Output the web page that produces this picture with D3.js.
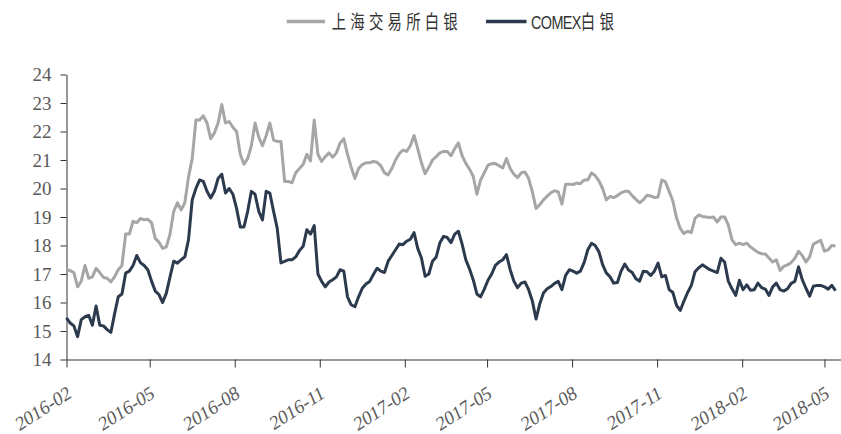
<!DOCTYPE html>
<html><head><meta charset="utf-8">
<script src="https://cdn.jsdelivr.net/npm/d3@7"></script>
<style>body{margin:0;background:#fff}svg{display:block}</style>
</head><body><svg id="c" width="841" height="434"></svg>
<script>
const dates = [
"2016-02-01","2016-02-05","2016-02-09","2016-02-13","2016-02-17","2016-02-21","2016-02-25","2016-02-29",
"2016-03-04","2016-03-08","2016-03-12","2016-03-16","2016-03-20","2016-03-24","2016-03-28",
"2016-04-01","2016-04-05","2016-04-09","2016-04-13","2016-04-17","2016-04-21","2016-04-25","2016-04-29",
"2016-05-03","2016-05-07","2016-05-11","2016-05-15","2016-05-19","2016-05-23","2016-05-27","2016-05-31",
"2016-06-04","2016-06-08","2016-06-12","2016-06-16","2016-06-20","2016-06-24","2016-06-28",
"2016-07-02","2016-07-06","2016-07-10","2016-07-14","2016-07-18","2016-07-22","2016-07-26","2016-07-30",
"2016-08-03","2016-08-07","2016-08-11","2016-08-15","2016-08-19","2016-08-23","2016-08-27","2016-08-31",
"2016-09-04","2016-09-08","2016-09-12","2016-09-16","2016-09-20","2016-09-24","2016-09-28",
"2016-10-02","2016-10-06","2016-10-10","2016-10-14","2016-10-18","2016-10-22","2016-10-26","2016-10-30",
"2016-11-03","2016-11-07","2016-11-11","2016-11-15","2016-11-19","2016-11-23","2016-11-27",
"2016-12-01","2016-12-05","2016-12-09","2016-12-13","2016-12-17","2016-12-21","2016-12-25","2016-12-29",
"2017-01-02","2017-01-06","2017-01-10","2017-01-14","2017-01-18","2017-01-22","2017-01-26","2017-01-30",
"2017-02-03","2017-02-07","2017-02-11","2017-02-15","2017-02-19","2017-02-23","2017-02-27",
"2017-03-03","2017-03-07","2017-03-11","2017-03-15","2017-03-19","2017-03-23","2017-03-27","2017-03-31",
"2017-04-04","2017-04-08","2017-04-12","2017-04-16","2017-04-20","2017-04-24","2017-04-28",
"2017-05-02","2017-05-06","2017-05-10","2017-05-14","2017-05-18","2017-05-22","2017-05-26","2017-05-30",
"2017-06-03","2017-06-07","2017-06-11","2017-06-15","2017-06-19","2017-06-23","2017-06-27",
"2017-07-01","2017-07-05","2017-07-09","2017-07-13","2017-07-17","2017-07-21","2017-07-25","2017-07-29",
"2017-08-02","2017-08-06","2017-08-10","2017-08-14","2017-08-18","2017-08-22","2017-08-26","2017-08-30",
"2017-09-03","2017-09-07","2017-09-11","2017-09-15","2017-09-19","2017-09-23","2017-09-27",
"2017-10-01","2017-10-05","2017-10-09","2017-10-13","2017-10-17","2017-10-21","2017-10-25","2017-10-29",
"2017-11-02","2017-11-06","2017-11-10","2017-11-14","2017-11-18","2017-11-22","2017-11-26","2017-11-30",
"2017-12-04","2017-12-08","2017-12-12","2017-12-16","2017-12-20","2017-12-24","2017-12-28",
"2018-01-01","2018-01-05","2018-01-09","2018-01-13","2018-01-17","2018-01-21","2018-01-25","2018-01-29",
"2018-02-02","2018-02-06","2018-02-10","2018-02-14","2018-02-18","2018-02-22","2018-02-26",
"2018-03-02","2018-03-06","2018-03-10","2018-03-14","2018-03-18","2018-03-22","2018-03-26","2018-03-30",
"2018-04-03","2018-04-07","2018-04-11","2018-04-15","2018-04-19","2018-04-23","2018-04-27",
"2018-05-01","2018-05-05","2018-05-09","2018-05-13"
];

// 上海交易所白银
const shfe = [
17.15,17.12,17.05,16.55,16.75,17.3,16.85,16.9,17.2,17.05,
16.88,16.85,16.72,16.9,17.15,17.3,18.4,18.4,18.85,18.8,
18.95,18.9,18.92,18.8,18.25,18.12,17.9,17.95,18.4,19.2,
19.5,19.25,19.5,20.4,21.05,22.4,22.4,22.55,22.3,21.75,
21.95,22.3,22.95,22.3,22.35,22.15,22.0,21.2,20.85,21.05,
21.5,22.3,21.8,21.5,21.85,22.3,21.7,21.65,21.65,20.25,
20.25,20.2,20.55,20.7,20.84,21.2,20.97,22.4,21.2,20.95,
21.12,21.25,21.1,21.25,21.6,21.75,21.2,20.75,20.35,20.7,
20.84,20.9,20.9,20.95,20.92,20.8,20.55,20.48,20.7,21.0,
21.22,21.35,21.3,21.5,21.86,21.4,20.9,20.52,20.75,21.0,
21.12,21.25,21.3,21.3,21.15,21.4,21.6,21.15,20.88,20.68,
20.43,19.8,20.3,20.55,20.82,20.87,20.88,20.8,20.72,21.05,
20.7,20.5,20.38,20.55,20.58,20.35,19.88,19.3,19.43,19.6,
19.73,19.85,19.92,19.88,19.45,20.15,20.15,20.14,20.19,20.17,
20.3,20.3,20.55,20.45,20.27,20.0,19.6,19.72,19.68,19.75,
19.85,19.9,19.9,19.75,19.62,19.5,19.6,19.76,19.74,19.68,
19.7,20.3,20.23,19.9,19.56,18.97,18.6,18.42,18.5,18.45,
18.95,19.07,19.02,19.0,18.98,19.0,18.82,19.0,19.0,18.72,
18.2,18.03,18.08,18.03,18.08,17.95,17.85,17.76,17.71,17.7,
17.56,17.42,17.5,17.12,17.27,17.32,17.4,17.55,17.8,17.65,
17.42,17.6,18.05,18.12,18.18,17.8,17.85,18.0,17.98
];

// COMEX白银
const comex = [
15.46,15.28,15.18,14.8,15.4,15.5,15.55,15.2,15.88,15.2,
15.18,15.05,14.95,15.6,16.2,16.3,17.03,17.1,17.3,17.65,
17.4,17.3,17.15,16.75,16.4,16.28,16.0,16.33,16.9,17.45,
17.38,17.5,17.6,18.2,19.6,20.0,20.3,20.25,19.9,19.67,
19.9,20.35,20.5,19.84,20.0,19.8,19.3,18.65,18.65,19.2,
19.9,19.8,19.2,18.9,19.9,19.84,19.2,18.6,17.39,17.44,
17.5,17.5,17.6,17.82,17.97,18.55,18.4,18.7,17.0,16.74,
16.55,16.72,16.8,16.9,17.15,17.1,16.2,15.92,15.85,16.2,
16.5,16.65,16.74,16.98,17.2,17.1,17.05,17.45,17.65,17.85,
18.05,18.03,18.15,18.22,18.45,17.9,17.56,16.92,17.0,17.45,
17.6,18.1,18.32,18.28,18.1,18.4,18.5,18.05,17.5,17.18,
16.8,16.3,16.2,16.47,16.78,17.0,17.3,17.42,17.5,17.68,
17.15,16.75,16.52,16.68,16.72,16.45,16.05,15.42,15.95,16.33,
16.48,16.56,16.67,16.74,16.45,16.95,17.15,17.1,17.03,17.1,
17.4,17.85,18.08,18.0,17.78,17.33,17.04,16.9,16.68,16.7,
17.1,17.35,17.14,17.05,16.83,16.75,17.1,17.08,16.95,17.1,
17.38,16.9,16.95,16.45,16.35,15.9,15.72,16.05,16.35,16.6,
17.08,17.22,17.32,17.24,17.15,17.1,17.05,17.55,17.42,16.75,
16.48,16.25,16.78,16.45,16.62,16.43,16.45,16.68,16.52,16.47,
16.25,16.55,16.68,16.45,16.4,16.48,16.67,16.74,17.25,16.8,
16.5,16.22,16.57,16.6,16.6,16.55,16.47,16.6,16.42
];

const yTicks = [14,15,16,17,18,19,20,21,22,23,24];
const xTickLabels = ["2016-02","2016-05","2016-08","2016-11","2017-02","2017-05","2017-08","2017-11","2018-02","2018-05"];
const seriesNames = ["上海交易所白银","COMEX白银"];
const colors = ["#a6a6a6","#2c3a4e"];

const parse = d3.utcParse("%Y-%m-%d");
const svg = d3.select("#c");
const x = d3.scaleUtc().domain([parse("2016-02-01"), parse("2018-05-20")]).range([66.5, 842]);
const y = d3.scaleLinear().domain([14,24]).range([359.5, 74.5]);

// Y axis
const ya = svg.append("g").attr("transform","translate(66.5,0)")
  .call(d3.axisLeft(y).tickValues(yTicks).tickSize(6).tickSizeOuter(0).tickPadding(9));
ya.attr("font-family",null).attr("font-size",null);
ya.select(".domain").attr("stroke","#333");
ya.selectAll(".tick line").attr("stroke","#333");
ya.selectAll("text")
  .style("font-family","Liberation Serif")
  .style("font-size","19px").attr("fill","#595959");

// X axis
const xa = svg.append("g").attr("transform","translate(0,359.5)")
  .call(d3.axisBottom(x).tickValues(xTickLabels.map(s=>parse(s+"-01")))
    .tickFormat(d3.utcFormat("%Y-%m")).tickSize(8).tickSizeOuter(0));
xa.attr("font-family",null).attr("font-size",null);
xa.select(".domain").attr("stroke","#333");
xa.selectAll(".tick line").attr("stroke","#333");
xa.selectAll("text")
  .style("font-family","Liberation Serif")
  .style("font-size","19px").style("font-style","italic").attr("fill","#595959")
  .attr("text-anchor","end").attr("x",0).attr("y",0).attr("dy",0)
  .attr("transform","translate(6,37) rotate(-33)");

// Lines
const pts = dates.map(parse);
const line = d3.line().x((d,i)=>x(pts[i])).y(d=>y(d));
[shfe, comex].forEach((s,k)=>{
  svg.append("path").datum(s).attr("d",line).attr("fill","none")
    .attr("stroke",colors[k]).attr("stroke-width",3).attr("stroke-linejoin","round");
});

// Legend
const lg = svg.append("g");
const legendItems = [{x1:286.7,x2:325,tx:331.7},{x1:486,x2:526.5,tx:531}];
legendItems.forEach((it,k)=>{
  lg.append("line").attr("x1",it.x1).attr("x2",it.x2).attr("y1",21.5).attr("y2",21.5)
    .attr("stroke",colors[k]).attr("stroke-width",3.5);
  const t = lg.append("text").attr("transform",`translate(${it.tx},29) scale(0.76,1)`)
    .style("font-family","Liberation Sans, Noto Sans CJK SC, sans-serif")
    .style("font-size","19px").attr("fill","#333");
  const name = seriesNames[k];
  const m = name.match(/^([A-Za-z]*)(.*)$/);
  if (m[1]) t.append("tspan").attr("letter-spacing",-0.8).text(m[1]);
  t.append("tspan").attr("letter-spacing",5.5).text(m[2]);
});
</script></body></html>
